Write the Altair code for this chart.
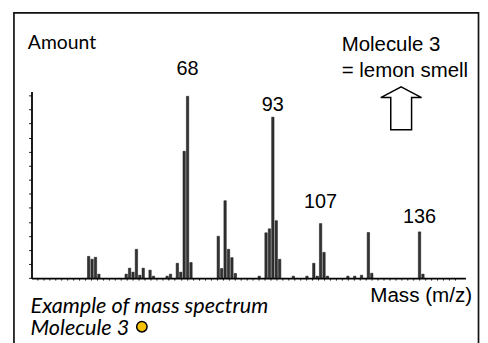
import altair as alt
import pandas as pd

# m/z values of the peaks
masses = [39, 40, 41, 42, 50, 51, 52, 53, 54, 55, 57, 58, 62, 63, 65, 66, 67, 68, 69,
          77, 78, 79, 80, 81, 82, 89, 91, 92, 93, 94, 95, 99, 103, 105, 106, 107, 108,
          109, 115, 117, 119, 121, 122, 136, 137]
# relative amounts
amounts = [12.0, 10.4, 11.5, 2.2, 2.2, 5.5, 3.3, 15.9, 1.6, 5.5, 4.4, 1.1, 1.1, 2.2, 8.2, 3.3, 70.0, 100.3, 8.6,
           23.1, 5.3, 42.7, 15.9, 11.3, 2.6, 1.1, 25.0, 27.2, 88.8, 31.7, 10.4, 1.1, 1.1, 8.2, 1.1, 30.1, 14.2,
           1.1, 1.1, 1.1, 1.6, 25.2, 2.7, 25.5, 2.2]

label_masses = [68, 93, 107, 136]
label_texts = ["68", "93", "107", "136"]
label_dy = [-21.7, -6.7, -15.3, -8.7]

x_ticks = [round(24 + i * 1.75, 2) for i in range(71)]
y_ticks = [round(i * 7.75, 2) for i in range(14)]

df = pd.DataFrame({"mass": masses, "amount": amounts})
amt_lookup = dict(zip(masses, amounts))

W, H = 437.6, 188.3

xs = alt.Scale(domain=[23.7, 148], nice=False, zero=False)
ys = alt.Scale(domain=[0, 103], nice=False)

x_axis = alt.Axis(values=x_ticks, labels=False, title=None, grid=False,
                  domainColor="#000", domainWidth=1.8, tickColor="#222",
                  tickSize=2, tickWidth=1)
y_axis = alt.Axis(values=y_ticks, labels=False, title=None, grid=False,
                  domainColor="#000", domainWidth=1.8, tickColor="#222",
                  tickSize=3, tickWidth=1)


def xe():
    return alt.X("mass:Q", scale=xs, axis=x_axis)


def ye():
    return alt.Y("amount:Q", scale=ys, axis=y_axis)


bars = alt.Chart(df).mark_bar(size=2.4, color="#333", stroke="#111", strokeWidth=0.5).encode(
    x=xe(), y=ye())

layers = [bars]
for m, t, d in zip(label_masses, label_texts, label_dy):
    ldf = pd.DataFrame({"mass": [m], "amount": [amt_lookup[m]], "t": [t]})
    layers.append(
        alt.Chart(ldf).mark_text(font="Liberation Sans", fontSize=20, dy=d,
                                 baseline="alphabetic", align="center", color="#000").encode(
            x=xe(), y=ye(), text="t:N")
    )

one = pd.DataFrame({"a": [0]})

border = alt.Chart(one).mark_rect(fill=None, stroke="#111", strokeWidth=1.7).encode(
    x=alt.value(-17.7), x2=alt.value(450.8), y=alt.value(-79.2), y2=alt.value(300))

amount_t = alt.Chart(one).mark_text(font="Lato", fontSize=19.5, align="left",
                                    baseline="alphabetic", color="#000").encode(
    x=alt.value(-3.7), y=alt.value(-43), text=alt.value("Amount"))

mol_t = alt.Chart(one).mark_text(font="Liberation Sans", fontSize=20.6, align="left",
                                 baseline="alphabetic", lineHeight=26, color="#000").encode(
    x=alt.value(312.8), y=alt.value(-41), text=alt.value(["Molecule 3", "= lemon smell"]))

mass_t = alt.Chart(one).mark_text(font="Liberation Sans", fontSize=20.8, align="left",
                                  baseline="alphabetic", color="#000").encode(
    x=alt.value(341.6), y=alt.value(212.5), text=alt.value("Mass (m/z)"))

ex_t = alt.Chart(one).mark_text(font="Lato", fontSize=21.8, fontStyle="italic", align="left",
                                baseline="alphabetic", lineHeight=22.7, color="#000").encode(
    x=alt.value(-1), y=alt.value(223.3),
    text=alt.value(["Example of mass spectrum", "Molecule 3"]))

arrow_path = "M0,-1 L0.95,-0.5 L0.485,-0.5 L0.485,1 L-0.485,1 L-0.485,-0.5 L-0.95,-0.5 Z"
arrow = alt.Chart(one).mark_point(shape=arrow_path, size=1875, filled=True, fill="#fff",
                                  stroke="#000", strokeWidth=1.5, opacity=1).encode(
    x=alt.value(372.8), y=alt.value(17))

dot = alt.Chart(one).mark_point(shape="circle", size=110, filled=True, fill="#f7c300",
                                stroke="#000", strokeWidth=1.5, opacity=1).encode(
    x=alt.value(111.3), y=alt.value(237.3))

chart = alt.layer(border, *layers, amount_t, mol_t, mass_t, ex_t, arrow, dot).properties(
    width=W, height=H,
    autosize=alt.AutoSizeParams(type="none"),
    padding={"left": 23.7, "top": 82.7, "right": 14.7, "bottom": 64},
    background="#ffffff",
).configure_view(stroke=None)

chart.save("out.html", embed_options={"renderer": "svg", "actions": False})
